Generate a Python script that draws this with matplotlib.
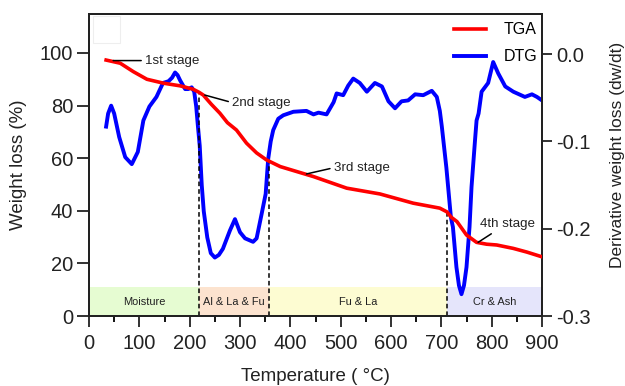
"""TGA / DTG thermogram with decomposition stages."""
import numpy as np
import matplotlib
matplotlib.use("Agg")
import matplotlib.pyplot as plt
from matplotlib.patches import Rectangle

plt.rcParams["font.family"] = ["Liberation Sans", "DejaVu Sans"]

# ---- data ----
temp_tga = [34, 62, 88, 115, 148, 181, 207, 219, 227, 243, 260, 275, 293, 313, 333,
            353, 380, 446, 512, 578, 644, 697, 711, 720, 731, 750, 770, 790, 810,
            843, 870, 900]
tga = [97.3, 96.1, 92.9, 90.0, 88.5, 87.5, 86.2, 85.0, 84.0, 80.5, 77.1, 73.5, 70.7,
       65.7, 62.0, 59.3, 56.8, 53.0, 48.6, 46.4, 42.9, 41.0, 39.6, 37.5, 35.9, 30.8,
       28.0, 27.3, 27.0, 25.7, 24.3, 22.5]

temp_dtg = [34, 38, 44, 50, 60, 72, 85, 97, 108, 120, 134, 147, 158, 165, 171, 176,
            181, 191, 197, 204, 209, 213, 216, 220, 224, 228, 235, 242, 250, 258, 266,
            280, 290, 300, 310, 326, 333, 343, 351, 356, 361, 366, 376, 386, 406, 432,
            446, 456, 472, 486, 492, 505, 515, 525, 538, 552, 568, 582, 595, 608, 621,
            634, 648, 664, 681, 691, 697, 701, 710, 719, 723, 730, 735, 740, 745, 750,
            756, 760, 767, 770, 774, 780, 793, 803, 813, 827, 843, 866, 880, 890, 900]
dtg = [-0.083, -0.068, -0.059, -0.068, -0.095, -0.118, -0.126, -0.112, -0.076, -0.060,
       -0.049, -0.033, -0.031, -0.027, -0.021, -0.024, -0.030, -0.040, -0.040, -0.038,
       -0.043, -0.060, -0.080, -0.105, -0.150, -0.180, -0.210, -0.228, -0.233, -0.230,
       -0.223, -0.202, -0.189, -0.204, -0.211, -0.215, -0.211, -0.183, -0.160, -0.120,
       -0.100, -0.087, -0.074, -0.070, -0.066, -0.065, -0.069, -0.067, -0.069, -0.055,
       -0.045, -0.047, -0.036, -0.028, -0.033, -0.043, -0.033, -0.037, -0.054, -0.062,
       -0.054, -0.053, -0.046, -0.047, -0.042, -0.049, -0.065, -0.083, -0.130, -0.187,
       -0.198, -0.244, -0.265, -0.275, -0.265, -0.244, -0.198, -0.152, -0.098, -0.076,
       -0.068, -0.043, -0.033, -0.009, -0.022, -0.037, -0.043, -0.049, -0.046, -0.049,
       -0.053]

# stage boundaries (°C) and the TGA value where each dashed line stops
stage_bounds = [0, 219, 358, 711, 900]
dash_temps = [219, 358, 711]
dash_tops = [85.0, 59.0, 39.6]
region_labels = ["Moisture", "Al & La & Fu", "Fu & La", "Cr & Ash"]
region_colors = ["#e6fcd2", "#fce3cf", "#fdfcd2", "#e5e5fb"]
band_height = 11.0

stage_names = ["1st stage", "2nd stage", "3rd stage", "4th stage"]
stage_points = [(48, 97.1), (230, 84.0), (432, 54.0), (773, 28.0)]
stage_text = [(112, 97.1), (285, 81.1), (487, 56.4), (832, 32.6)]

YLIM_L = (0, 114.8)
YLIM_R = (-0.3, 0.046)

fig = plt.figure(figsize=(6.25, 3.86), dpi=100)
ax = fig.add_axes([0.1424, 0.1813, 0.7248, 0.7824])
ax2 = ax.twinx()
ax.set_zorder(ax2.get_zorder() + 1)
ax.patch.set_visible(False)

# shaded stage bands (on the lower axes so the DTG dip shows over them)
for i, (lab, col) in enumerate(zip(region_labels, region_colors)):
    x0, x1 = stage_bounds[i], stage_bounds[i + 1]
    ax2.axvspan(x0, x1, ymin=0, ymax=band_height / YLIM_L[1], color=col, lw=0, zorder=0)
    ax.text((x0 + x1) / 2, 5.4, lab, ha="center", va="center", fontsize=7.9,
            color="#222222", zorder=1)

ln_dtg, = ax2.plot(temp_dtg, dtg, color="#0000ff", lw=2.8, solid_joinstyle="round",
                   label="DTG", zorder=2)

for t, top in zip(dash_temps, dash_tops):
    ax.plot([t, t], [0, top], ls=(0, (3, 2)), color="black", lw=1.1, zorder=1)

ln_tga, = ax.plot(temp_tga, tga, color="#ff0000", lw=2.6, solid_joinstyle="round",
                  label="TGA", zorder=3)

for name, pt, tx in zip(stage_names, stage_points, stage_text):
    if name == "4th stage":
        ha, va, rel = "center", "bottom", (0.3, 0.0)
    else:
        ha, va, rel = "left", "center", (0.0, 0.5)
    ax.annotate(name, xy=pt, xytext=tx, ha=ha, va=va, fontsize=9.6, color="#222222",
                arrowprops=dict(arrowstyle="-", color="black", lw=1.1, relpos=rel,
                                shrinkA=1, shrinkB=0), zorder=4)

# faint empty box in the top-left corner
ax.add_patch(Rectangle((0.009, 0.905), 0.059, 0.088, transform=ax.transAxes,
                       fill=False, ec="#eeeeee", lw=0.8))

ax.set_xlim(0, 900)
ax.set_ylim(*YLIM_L)
ax2.set_ylim(*YLIM_R)
ax.set_xticks(np.arange(0, 901, 100))
ax.set_xticks(np.arange(50, 900, 100), minor=True)
ax.set_yticks(np.arange(0, 101, 20))
ax2.set_yticks([0.0, -0.1, -0.2, -0.3])
ax2.set_yticklabels(["0.0", "-0.1", "-0.2", "-0.3"])

for a in (ax, ax2):
    for s in a.spines.values():
        s.set_linewidth(1.4)
        s.set_color("#222222")
ax.tick_params(which="major", direction="out", length=8.5, width=1.3, labelsize=14.5,
               colors="#222222", pad=3)
ax.tick_params(axis="x", which="major", length=8, pad=5)
ax.tick_params(axis="x", which="minor", direction="out", length=4, width=1.3)
ax2.tick_params(direction="out", length=7, width=1.3, labelsize=14.5, colors="#222222", pad=3)

ax.set_xlabel("Temperature ( °C)", fontsize=13.5, color="#222222", labelpad=11)
ax.set_ylabel("Weight loss (%)", fontsize=13.5, color="#222222", labelpad=9)
ax2.set_ylabel("Derivative weight loss (dw/dt)", fontsize=12.5, color="#222222")
ax2.yaxis.set_label_coords(1.151, 0.535)

ax.legend(handles=[ln_tga, ln_dtg], loc="upper right", frameon=False, fontsize=11.5,
          handlelength=2.0, handletextpad=1.1, labelspacing=0.75,
          bbox_to_anchor=(1.022, 1.02))

fig.savefig("out.png", dpi=100)
